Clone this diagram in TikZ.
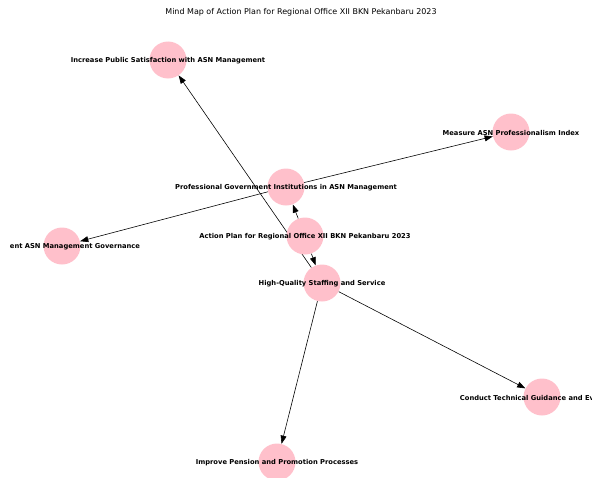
\documentclass[tikz,border=0pt]{standalone}
\usepackage{fontspec}
\setmainfont{DejaVu Sans}
\usetikzlibrary{arrows.meta,backgrounds}
\definecolor{nodepink}{HTML}{FFC0CB}

\begin{document}
\begin{tikzpicture}[x=0.03cm,y=-0.03cm,
		topic/.style={circle,fill=nodepink,minimum size=1.11cm,inner sep=0pt},
		lbl/.style={font=\bfseries\fontsize{5.75}{6}\selectfont,inner sep=0pt,yshift=-0.03cm},
		link/.style={-{Triangle[length=7pt,width=5pt]},line width=0.5pt}]
	\useasboundingbox (0,0) rectangle (592,477);
	\clip (0,0) rectangle (592,477);

	\node(title) at (301,12) {\fontsize{6.8}{7.5}\selectfont Mind Map of Action Plan for Regional Office XII BKN Pekanbaru 2023};

	\node(plan)[topic,label={[lbl]center:Action Plan for Regional Office XII BKN Pekanbaru 2023}] at (305,236) {};
	\node(profinst)[topic,label={[lbl]center:Professional Government Institutions in ASN Management}] at (286,187) {};
	\node(quality)[topic,label={[lbl]center:High-Quality Staffing and Service}] at (322,283) {};
	\node(satisf)[topic,label={[lbl]center:Increase Public Satisfaction with ASN Management}] at (168,60) {};
	\node(measure)[topic,label={[lbl]center:Measure ASN Professionalism Index}] at (511,132) {};
	\node(govern)[topic,label={[lbl,xshift=0.39cm]center:ent ASN Management Governance}] at (62,246) {};
	\node(guidance)[topic,label={[lbl,xshift=-0.45cm]center:Conduct Technical Guidance and Ev}] at (542,397) {};
	\node(pension)[topic,label={[lbl]center:Improve Pension and Promotion Processes}] at (277,462) {};

	\begin{pgfonlayer}{background}
		\draw[link] (plan) -- (profinst);
		\draw[link] (plan) -- (quality);
		\draw[link] (profinst) -- (measure);
		\draw[link] (profinst) -- (govern);
		\draw[link] (quality) -- (satisf);
		\draw[link] (quality) -- (guidance);
		\draw[link] (quality) -- (pension);
	\end{pgfonlayer}
\end{tikzpicture}
\end{document}
